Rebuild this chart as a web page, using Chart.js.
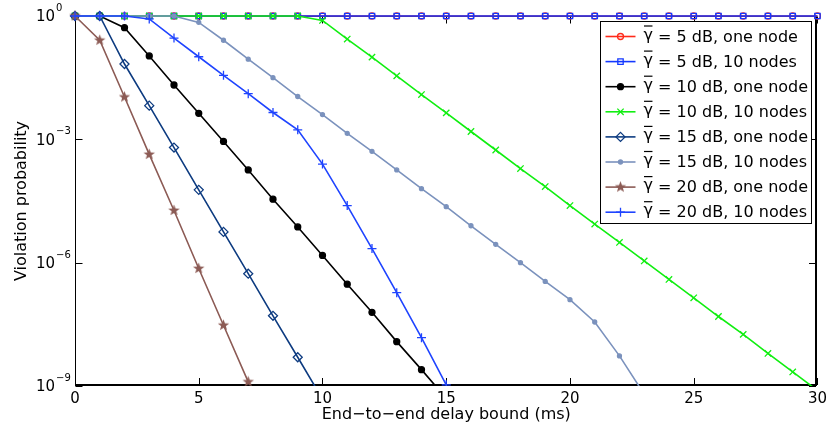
<!DOCTYPE html>
<html>
<head>
<meta charset="utf-8">
<title>Violation probability vs end-to-end delay bound</title>
<script src="https://cdn.jsdelivr.net/npm/chart.js@4.4.1/dist/chart.umd.min.js"></script>
<style>
  html, body { margin: 0; padding: 0; background: #fff; }
  #wrap { width: 831px; height: 432px; }
</style>
</head>
<body>
<div id="wrap"><canvas id="chart" width="831" height="432"></canvas></div>
<script>
// delay bound in ms, one sample per ms
const delayMs = [0, 1, 2, 3, 4, 5, 6, 7, 8, 9, 10, 11, 12, 13, 14, 15,
                 16, 17, 18, 19, 20, 21, 22, 23, 24, 25, 26, 27, 28, 29, 30];

// violation probabilities
const snr5One = [1, 1, 1, 1, 1, 1, 1, 1, 1, 1, 1, 1, 1, 1, 1, 1,
                 1, 1, 1, 1, 1, 1, 1, 1, 1, 1, 1, 1, 1, 1, 1];
const snr5Ten = [1, 1, 1, 1, 1, 1, 1, 1, 1, 1, 1, 1, 1, 1, 1, 1,
                 1, 1, 1, 1, 1, 1, 1, 1, 1, 1, 1, 1, 1, 1, 1];
const snr10One = [1, 1, 5.2e-1, 1.07e-1, 2.1e-2, 4.3e-3, 8.9e-4, 1.8e-4, 3.5e-5,
                  7.4e-6, 1.5e-6, 3.0e-7, 6.2e-8, 1.2e-8, 2.5e-9, 5.0e-10];
const snr10Ten = [1, 1, 1, 1, 1, 1, 1, 1, 1, 1, 7.8e-1, 2.75e-1, 1.0e-1, 3.5e-2,
                  1.23e-2, 4.4e-3, 1.55e-3, 5.5e-4, 1.95e-4, 7.1e-5, 2.45e-5, 8.7e-6,
                  3.1e-6, 1.1e-6, 3.9e-7, 1.4e-7, 4.9e-8, 1.8e-8, 6.2e-9, 2.2e-9, 7.8e-10];
const snr15One = [1, 1, 6.8e-2, 6.6e-3, 6.3e-4, 5.9e-5, 5.6e-6, 5.4e-7, 5.1e-8,
                  5.0e-9, 4.8e-10];
const snr15Ten = [1, 1, 1, 1, 1, 7.0e-1, 2.57e-1, 8.9e-2, 3.16e-2, 1.1e-2, 4.0e-3,
                  1.4e-3, 5.1e-4, 1.8e-4, 6.3e-5, 2.3e-5, 7.9e-6, 2.8e-6, 1.0e-6,
                  3.5e-7, 1.26e-7, 3.6e-8, 5.4e-9, 6.3e-10];
const snr20One = [1, 2.57e-1, 1.07e-2, 4.3e-4, 1.86e-5, 7.2e-7, 3.0e-8, 1.26e-9];
const snr20Ten = [1, 1, 1, 8.5e-1, 2.9e-1, 1.02e-1, 3.6e-2, 1.29e-2, 4.5e-3, 1.7e-3,
                  2.5e-4, 2.45e-5, 2.2e-6, 1.86e-7, 1.5e-8, 1.07e-9];

const seriesLabels = [' = 5 dB, one node', ' = 5 dB, 10 nodes', ' = 10 dB, one node',
                      ' = 10 dB, 10 nodes', ' = 15 dB, one node', ' = 15 dB, 10 nodes',
                      ' = 20 dB, one node', ' = 20 dB, 10 nodes'];
const seriesValues = [snr5One, snr5Ten, snr10One, snr10Ten, snr15One, snr15Ten, snr20One, snr20Ten];

const yTicks = [1, 1e-3, 1e-6, 1e-9];
const yTickExponents = ['0', '−3', '−6', '−9'];

const FONT = 'DejaVu Sans';

// filled five point star for the 20 dB / one node curve
function makeStar(color) {
    const c = document.createElement('canvas');
    c.width = 13; c.height = 13;
    const g = c.getContext('2d');
    g.fillStyle = color;
    g.beginPath();
    for (let k = 0; k < 10; k++) {
        const r = k % 2 === 0 ? 6 : 2.5;
        const a = -Math.PI / 2 + k * Math.PI / 5;
        const px = 6.5 + r * Math.cos(a), py = 6.5 + r * Math.sin(a);
        if (k === 0) g.moveTo(px, py); else g.lineTo(px, py);
    }
    g.closePath();
    g.fill();
    return c;
}

// look of each curve (matlab style markers)
const styles = [
    { color: '#ff2a1a', marker: 'circle', radius: 3, fill: false },
    { color: '#1438ff', marker: 'rect', radius: 3.8, fill: false },
    { color: '#000000', marker: 'circle', radius: 3, fill: true },
    { color: '#11ee11', marker: 'crossRot', radius: 4.5, fill: false },
    { color: '#0d3b80', marker: 'rectRot', radius: 4.5, fill: false },
    { color: '#7b92bd', marker: 'circle', radius: 2, fill: true },
    { color: '#8c5b55', marker: makeStar('#8c5b55'), radius: 5, fill: true },
    { color: '#1f44ff', marker: 'cross', radius: 4.5, fill: false }
];

const datasets = seriesValues.map((vals, i) => ({
    label: 'γ' + seriesLabels[i],
    data: vals.map((v, k) => ({ x: delayMs[k], y: v })),
    borderColor: styles[i].color,
    backgroundColor: styles[i].color,
    pointBackgroundColor: styles[i].fill ? styles[i].color : 'rgba(0,0,0,0)',
    pointBorderColor: styles[i].color,
    pointStyle: styles[i].marker,
    pointRadius: styles[i].radius,
    pointBorderWidth: 1.3,
    borderWidth: 1.6,
    tension: 0,
    // later curves are drawn on top, like matlab does
    order: seriesValues.length - i,
    clip: { left: 12, top: 12, right: 12, bottom: 0 }
}));

// box round the axes with inward tick marks
const framePlugin = {
    id: 'frame',
    beforeDatasetsDraw(chart) {
        const { ctx, chartArea: a, scales: { x, y } } = chart;
        const L = Math.round(a.left) + 0.5, R = Math.round(a.right) - 1;
        const T = Math.round(a.top) + 0.5, B = Math.round(a.bottom) - 1;
        ctx.save();
        ctx.strokeStyle = '#000';
        ctx.lineWidth = 1;
        ctx.beginPath();
        ctx.moveTo(L, B); ctx.lineTo(L, T); ctx.lineTo(R, T);
        ctx.stroke();
        ctx.lineWidth = 2;
        ctx.beginPath();
        ctx.moveTo(L - 0.5, B); ctx.lineTo(R, B); ctx.lineTo(R, T - 0.5);
        ctx.stroke();
        ctx.lineWidth = 1;
        ctx.beginPath();
        x.ticks.forEach(t => {
            const px = Math.round(x.getPixelForValue(t.value)) + 0.5;
            ctx.moveTo(px, B); ctx.lineTo(px, B - 7);
            ctx.moveTo(px, T); ctx.lineTo(px, T + 7);
        });
        y.ticks.forEach(t => {
            const py = Math.round(y.getPixelForValue(t.value)) + 0.5;
            ctx.moveTo(L, py); ctx.lineTo(L + 7, py);
            ctx.moveTo(R, py); ctx.lineTo(R - 7, py);
        });
        ctx.stroke();
        ctx.restore();
    },
    afterDraw(chart) {
        // 10^n tick labels with raised exponent
        const { ctx, scales: { y } } = chart;
        ctx.save();
        ctx.fillStyle = '#000';
        y.ticks.forEach((t, i) => {
            const py = y.getPixelForValue(t.value);
            ctx.font = '15px "' + FONT + '"';
            ctx.textAlign = 'right';
            ctx.textBaseline = 'middle';
            ctx.fillText('10', 55, py + 1.5);
            ctx.font = '10px "' + FONT + '"';
            ctx.textAlign = 'left';
            ctx.fillText(yTickExponents[i], 56, py - 7.5);
        });
        ctx.restore();
    }
};

// legend box inside the plot, top right
const legendPlugin = {
    id: 'boxLegend',
    afterDatasetsDraw(chart) {
        const { ctx, chartArea: a } = chart;
        const boxR = Math.round(a.right) - 5.5, boxT = Math.round(a.top) + 5.5;
        const boxL = boxR - 211, boxB = boxT + 202;
        ctx.save();
        ctx.fillStyle = '#fff';
        ctx.fillRect(boxL, boxT, boxR - boxL, boxB - boxT);
        ctx.strokeStyle = '#000';
        ctx.lineWidth = 1;
        ctx.strokeRect(boxL, boxT, boxR - boxL, boxB - boxT);

        seriesLabels.forEach((txt, i) => {
            const st = styles[i];
            const ry = boxT + 15 + i * 25.1;
            ctx.strokeStyle = st.color;
            ctx.lineWidth = 1.6;
            ctx.beginPath();
            ctx.moveTo(boxL + 5, ry); ctx.lineTo(boxL + 35, ry);
            ctx.stroke();
            ctx.fillStyle = st.fill ? st.color : 'rgba(0,0,0,0)';
            ctx.lineWidth = 1.3;
            Chart.helpers.drawPoint(ctx, { pointStyle: st.marker, radius: st.radius, borderWidth: 1.3, rotation: 0 }, boxL + 20, ry);

            ctx.fillStyle = '#000';
            ctx.font = '16px "' + FONT + '"';
            ctx.textAlign = 'left';
            ctx.textBaseline = 'middle';
            const gx = boxL + 43;
            ctx.fillText('γ', gx, ry - 1);
            const gw = ctx.measureText('γ').width;
            ctx.fillText(txt, gx + gw, ry + 1);
            // bar over gamma (mean snr)
            ctx.strokeStyle = '#000';
            ctx.lineWidth = 1.2;
            ctx.beginPath();
            ctx.moveTo(gx + 0.5, ry - 10.5); ctx.lineTo(gx + gw - 0.5, ry - 10.5);
            ctx.stroke();
        });
        ctx.restore();
    }
};

new Chart(document.getElementById('chart').getContext('2d'), {
    type: 'line',
    data: { datasets: datasets },
    options: {
        responsive: false,
        animation: false,
        events: [],
        layout: { padding: { top: 16, right: 12, bottom: 0, left: 0 } },
        plugins: {
            legend: { display: false },
            tooltip: { enabled: false }
        },
        scales: {
            x: {
                type: 'linear',
                min: 0,
                max: 30,
                ticks: { stepSize: 5, color: '#000', maxRotation: 0, padding: 4,
                         font: { family: FONT, size: 15 } },
                grid: { display: false, drawTicks: false },
                border: { display: false },
                title: { display: true, text: 'End−to−end delay bound (ms)', color: '#000',
                         font: { family: FONT, size: 16 }, padding: { top: 0, bottom: 8 } },
                afterFit: s => { s.height = 46; }
            },
            y: {
                type: 'logarithmic',
                min: 1e-9,
                max: 1,
                ticks: { display: false },
                grid: { display: false, drawTicks: false },
                border: { display: false },
                title: { display: true, text: 'Violation probability', color: '#000',
                         font: { family: FONT, size: 16 }, padding: { top: 12, bottom: 0 } },
                afterBuildTicks: s => { s.ticks = yTicks.map(v => ({ value: v })); },
                afterFit: s => { s.width = 75; }
            }
        }
    },
    plugins: [framePlugin, legendPlugin]
});
</script>
</body>
</html>
